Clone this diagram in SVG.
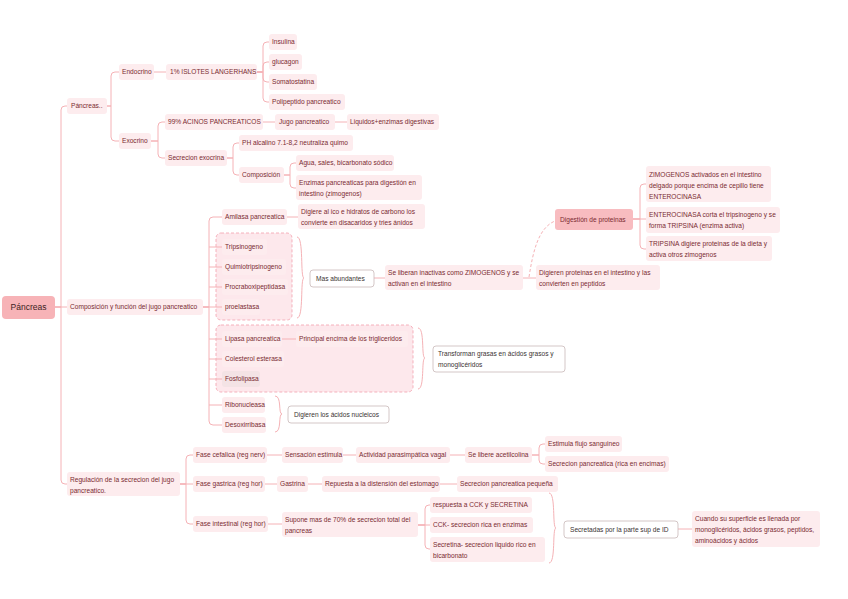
<svg xmlns="http://www.w3.org/2000/svg" width="848" height="599" viewBox="0 0 848 599">
<style>
text{font-family:"Liberation Sans",Arial,sans-serif;font-size:6.6px;fill:#7a2b31}
.n rect{fill:#fdecee}
.w rect{fill:#fff;stroke:#c9b9b9;stroke-width:0.8}
.w text{fill:#3a3333}
.g{fill:#fde8ec;stroke:#f4a9b5;stroke-width:0.9;stroke-dasharray:3 2}
.c path{fill:none;stroke:#f5b2b6;stroke-width:1}
</style>
<rect width="848" height="599" fill="#fff"/>
<rect class="g" x="216" y="233" width="76" height="87" rx="5"/>
<rect class="g" x="216" y="325" width="197" height="67" rx="5"/>
<g id="connectors" class="c">
<path d="M55,307H61V110Q61,106 65,106H67M55,307H67M55,307H61V480Q61,484 65,484H67"/>
<path d="M106,106H111V76Q111,72 115,72H119M106,106H111V137Q111,141 115,141H119"/>
<path d="M154,72H166"/>
<path d="M257,72H263V46Q263,42 267,42H269M257,72H263V66Q263,62 267,62H269M257,72H263V78Q263,82 267,82H269M257,72H263V98Q263,102 267,102H269"/>
<path d="M151,141H158V126Q158,122 162,122H165M151,141H158V154Q158,158 162,158H165"/>
<path d="M263,122H275M335,122H347"/>
<path d="M227,158H233V147Q233,143 237,143H239M227,158H233V171Q233,175 237,175H239"/>
<path d="M284,175H290V167Q290,163 294,163H296M284,175H290V184Q290,188 294,188H296"/>
<path d="M203,307H209V221Q209,217 213,217H222M209,247H222M209,267H222M209,287H222M203,307H222M209,339H222M209,359H222M209,379H222M209,405H222M203,307H209V421Q209,425 213,425H222"/>
<path d="M287,217H298M282,339H296"/>
<path d="M374,278H385M523,278H536"/>
<path d="M633,219H640V188Q640,184 644,184H646M633,219H646M633,219H640V245Q640,249 644,249H646"/>
<path d="M529,277C533,252 538,228 555,221" stroke-dasharray="3 2"/>
<path d="M297,237C304,237 300,278 304,278C300,278 304,318 297,318"/>
<path d="M418,328C425,328 421,358 425,358C421,358 425,389 418,389"/>
<path d="M275,396C282,396 278,414 282,414C278,414 282,432 275,432"/>
<path d="M549,493C556,493 552,528 556,528C552,528 556,563 549,563"/>
<path d="M180,484H186V459Q186,455 190,455H193M180,484H193M180,484H186V520Q186,524 190,524H193"/>
<path d="M267,455H282M343,455H356M450,455H465"/>
<path d="M532,455H539V448Q539,444 543,444H545M532,455H539V460Q539,464 543,464H545"/>
<path d="M265,484H277M308,484H322M440,484H457"/>
<path d="M268,524H282"/>
<path d="M418,525H425V509Q425,505 429,505H430M418,525H430M418,525H425V545Q425,549 429,549H430"/>
<path d="M678,529H692"/>
</g>
<g id="n_root"><rect x="2" y="296" width="53" height="23" rx="4" fill="#f7b3b7"/><text x="28.5" y="310.3" text-anchor="middle" style="font-size:8.5px;fill:#3b1e1e">Páncreas</text></g>
<g id="n_pancreas2" class="n"><rect x="67" y="98" width="40" height="16" rx="3"/><text x="71" y="108.3">Páncreas..</text></g>
<g id="n_endocrino" class="n"><rect x="119" y="64" width="35" height="16" rx="3"/><text x="122" y="74.3">Endocrino</text></g>
<g id="n_islotes" class="n"><rect x="166" y="64" width="91" height="16" rx="3"/><text x="170" y="74.3">1% ISLOTES LANGERHANS</text></g>
<g id="n_insulina" class="n"><rect x="269" y="34" width="28" height="16" rx="3"/><text x="272" y="44.3">Insulina</text></g>
<g id="n_glucagon" class="n"><rect x="269" y="54" width="33" height="16" rx="3"/><text x="272" y="64.3">glucagon</text></g>
<g id="n_somato" class="n"><rect x="269" y="74" width="48" height="16" rx="3"/><text x="272" y="84.3">Somatostatina</text></g>
<g id="n_polipep" class="n"><rect x="269" y="94" width="76" height="16" rx="3"/><text x="272" y="104.3">Polipeptido pancreatico</text></g>
<g id="n_exocrino" class="n"><rect x="119" y="133" width="32" height="16" rx="3"/><text x="122" y="143.3">Exocrino</text></g>
<g id="n_acinos" class="n"><rect x="165" y="114" width="98" height="16" rx="3"/><text x="168" y="124.3">99% ACINOS PANCREATICOS</text></g>
<g id="n_jugo" class="n"><rect x="275" y="114" width="60" height="16" rx="3"/><text x="279" y="124.3">Jugo pancreatico</text></g>
<g id="n_liquidos" class="n"><rect x="347" y="114" width="92" height="16" rx="3"/><text x="350" y="124.3">Liquidos+enzimas digestivas</text></g>
<g id="n_secexo" class="n"><rect x="165" y="150" width="62" height="16" rx="3"/><text x="168" y="160.3">Secrecion exocrina</text></g>
<g id="n_ph" class="n"><rect x="239" y="135" width="114" height="16" rx="3"/><text x="242" y="145.3">PH alcalino 7.1-8,2 neutraliza quimo</text></g>
<g id="n_compos" class="n"><rect x="239" y="167" width="45" height="16" rx="3"/><text x="242" y="177.3">Composición</text></g>
<g id="n_agua" class="n"><rect x="296" y="155" width="98" height="16" rx="3"/><text x="299" y="165.3">Agua, sales, bicarbonato sódico</text></g>
<g id="n_enzimas" class="n"><rect x="296" y="175" width="126" height="25" rx="3"/><text x="299" y="185.3">Enzimas pancreaticas para digestión en<tspan x="299" dy="11">intestino (zimogenos)</tspan></text></g>
<g id="n_compfunc" class="n"><rect x="67" y="299" width="136" height="16" rx="3"/><text x="70" y="309.3">Composición y función del jugo pancreatico</text></g>
<g id="n_amilasa" class="n"><rect x="222" y="209" width="65" height="16" rx="3"/><text x="225" y="219.3">Amilasa pancreatica</text></g>
<g id="n_digiere" class="n"><rect x="298" y="204" width="127" height="25" rx="3"/><text x="301" y="214.3">Digiere al ico e hidratos de carbono los<tspan x="301" dy="11">convierte en disacaridos y tries ánidos</tspan></text></g>
<g id="n_trips" class="n"><rect x="222" y="239" width="45" height="16" rx="3"/><text x="225" y="249.3">Tripsinogeno</text></g>
<g id="n_quimio" class="n"><rect x="222" y="259" width="64" height="16" rx="3"/><text x="225" y="269.3">Quimiotripsinogeno</text></g>
<g id="n_procarb" class="n"><rect x="222" y="279" width="66" height="16" rx="3"/><text x="225" y="289.3">Procraboxipeptidasa</text></g>
<g id="n_proela" class="n"><rect x="222" y="299" width="38" height="16" rx="3"/><text x="225" y="309.3">proelastasa</text></g>
<g id="n_mas" class="w"><rect x="310" y="270" width="64" height="17" rx="3"/><text x="316" y="280.8">Mas abundantes</text></g>
<g id="n_liberan" class="n"><rect x="385" y="265" width="138" height="25" rx="3"/><text x="388" y="275.3">Se liberan inactivas como ZIMOGENOS y se<tspan x="388" dy="11">activan en el  intestino</tspan></text></g>
<g id="n_digprot" class="n"><rect x="536" y="265" width="124" height="25" rx="3"/><text x="539" y="275.3">Digieren proteinas en el intestino  y las<tspan x="539" dy="11">convierten en peptidos</tspan></text></g>
<g id="n_digestion"><rect x="555" y="209" width="78" height="21" rx="3" fill="#f8bcc0"/><text x="560" y="222">Digestión de proteinas</text></g>
<g id="n_zimo" class="n"><rect x="646" y="166" width="125" height="36" rx="3"/><text x="649" y="176.5">ZIMOGENOS activados en el intestino<tspan x="649" dy="11">delgado porque encima de cepillo tiene</tspan><tspan x="649" dy="11">ENTEROCINASA</tspan></text></g>
<g id="n_entero" class="n"><rect x="646" y="207" width="134" height="26" rx="3"/><text x="649" y="217.3">ENTEROCINASA corta el tripsinogeno y se<tspan x="649" dy="11">forma TRIPSINA (enzima activa)</tspan></text></g>
<g id="n_tripsina" class="n"><rect x="646" y="236" width="126" height="25" rx="3"/><text x="649" y="246.3">TRIPSINA digiere proteinas de la dieta y<tspan x="649" dy="11">activa otros zimogenos</tspan></text></g>
<g id="n_lipasa" class="n"><rect x="222" y="331" width="60" height="16" rx="3"/><text x="225" y="341.3">Lipasa pancreatica</text></g>
<g id="n_principal" class="n"><rect x="296" y="331" width="112" height="16" rx="3"/><text x="299" y="341.3">Principal encima de los trigliceridos</text></g>
<g id="n_coles" class="n"><rect x="222" y="351" width="62" height="16" rx="3"/><text x="225" y="361.3">Colesterol esterasa</text></g>
<g id="n_fosfo"><rect x="222" y="371" width="38" height="16" rx="3" fill="#f4e3e5"/><text x="225" y="381.3">Fosfolipasa</text></g>
<g id="n_transf" class="w"><rect x="433" y="346" width="132" height="26" rx="3"/><text x="438" y="356.3">Transforman grasas en ácidos grasos y<tspan x="438" dy="11">monoglicéridos</tspan></text></g>
<g id="n_ribo" class="n"><rect x="222" y="397" width="43" height="16" rx="3"/><text x="225" y="407.3">Ribonucleasa</text></g>
<g id="n_desoxi" class="n"><rect x="222" y="417" width="44" height="16" rx="3"/><text x="225" y="427.3">Desoxirribasa</text></g>
<g id="n_digac" class="w"><rect x="288" y="406" width="101" height="17" rx="3"/><text x="294" y="416.8">Digieren los ácidos nucleicos</text></g>
<g id="n_regul" class="n"><rect x="67" y="472" width="113" height="24" rx="3"/><text x="70" y="481.5">Regulación de la secrecion del jugo<tspan x="70" dy="11">pancreatico.</tspan></text></g>
<g id="n_cefal" class="n"><rect x="193" y="447" width="74" height="16" rx="3"/><text x="196" y="457.3">Fase cefalica (reg nerv)</text></g>
<g id="n_sens" class="n"><rect x="282" y="447" width="61" height="16" rx="3"/><text x="285" y="457.3">Sensación estimula</text></g>
<g id="n_activ" class="n"><rect x="356" y="447" width="94" height="16" rx="3"/><text x="359" y="457.3">Actividad parasimpática vagal</text></g>
<g id="n_libere" class="n"><rect x="465" y="447" width="67" height="16" rx="3"/><text x="468" y="457.3">Se libere acetilcolina</text></g>
<g id="n_estimula" class="n"><rect x="545" y="436" width="77" height="16" rx="3"/><text x="548" y="446.3">Estimula flujo sanguineo</text></g>
<g id="n_secrica" class="n"><rect x="545" y="456" width="124" height="16" rx="3"/><text x="548" y="466.3">Secrecion pancreatica (rica en encimas)</text></g>
<g id="n_gastrica" class="n"><rect x="193" y="476" width="72" height="16" rx="3"/><text x="196" y="486.3">Fase gastrica (reg hor)</text></g>
<g id="n_gastrina" class="n"><rect x="277" y="476" width="31" height="16" rx="3"/><text x="280" y="486.3">Gastrina</text></g>
<g id="n_repuesta" class="n"><rect x="322" y="476" width="118" height="16" rx="3"/><text x="325" y="486.3">Repuesta a la distensión del estomago</text></g>
<g id="n_secpeq" class="n"><rect x="457" y="476" width="101" height="16" rx="3"/><text x="460" y="486.3">Secrecion pancreatica pequeña</text></g>
<g id="n_intest" class="n"><rect x="193" y="516" width="75" height="16" rx="3"/><text x="196" y="526.3">Fase intestinal (reg hor)</text></g>
<g id="n_supone" class="n"><rect x="282" y="512" width="136" height="25" rx="3"/><text x="285" y="522.3">Supone mas de 70% de secrecion total del<tspan x="285" dy="11">pancreas</tspan></text></g>
<g id="n_resp" class="n"><rect x="430" y="497" width="102" height="16" rx="3"/><text x="433" y="507.3">respuesta a CCK y SECRETINA</text></g>
<g id="n_cck" class="n"><rect x="430" y="517" width="103" height="16" rx="3"/><text x="433" y="527.3">CCK- secrecion rica en enzimas</text></g>
<g id="n_secretina" class="n"><rect x="430" y="537" width="115" height="25" rx="3"/><text x="433" y="547.3">Secretina- secrecion liquido rico en<tspan x="433" dy="11">bicarbonato</tspan></text></g>
<g id="n_secretadas" class="w"><rect x="564" y="521" width="114" height="17" rx="3"/><text x="570" y="531.8">Secretadas por la parte sup de ID</text></g>
<g id="n_cuando" class="n"><rect x="692" y="511" width="128" height="36" rx="3"/><text x="695" y="521.3">Cuando su superficie es llenada por<tspan x="695" dy="11">monoglicéridos, ácidos grasos, peptidos,</tspan><tspan x="695" dy="11">aminoácidos y ácidos</tspan></text></g>
</svg>
